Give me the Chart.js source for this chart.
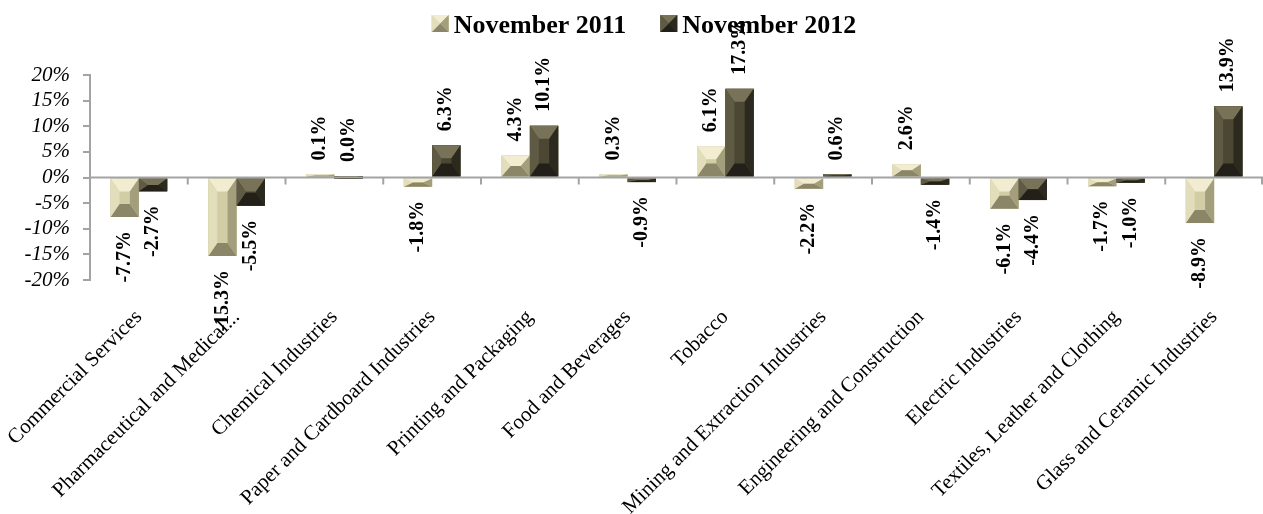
<!DOCTYPE html>
<html>
<head>
<meta charset="utf-8">
<script src="https://cdn.jsdelivr.net/npm/chart.js@4.4.0/dist/chart.umd.min.js"></script>
<style>
  html, body { margin: 0; padding: 0; background: #ffffff; }
  #wrap { width: 1263px; height: 514px; position: relative; }
</style>
</head>
<body>
<div id="wrap"><canvas id="chart"></canvas></div>
<script>
// Year-on-year change by industry (%)
const categories = [
  'Commercial Services',
  'Pharmaceutical and Medical...',
  'Chemical Industries',
  'Paper and Cardboard Industries',
  'Printing and Packaging',
  'Food and Beverages',
  'Tobacco',
  'Mining and Extraction Industries',
  'Engineering and Construction',
  'Electric Industries',
  'Textiles, Leather and Clothing',
  'Glass and Ceramic Industries'
];
const seriesNames = ['November 2011', 'November 2012'];
const nov2011 = [-7.7, -15.3, 0.1, -1.8, 4.3, 0.3, 6.1, -2.2, 2.6, -6.1, -1.7, -8.9];
const nov2012 = [-2.7, -5.5, 0.0, 6.3, 10.1, -0.9, 17.3, 0.6, -1.4, -4.4, -1.0, 13.9];
const yMin = -20;
const yMax = 20;
const yStep = 5;

const SERIF = '"Liberation Serif", "Times New Roman", serif';

// Facet colours for the bevelled ("pyramid") bars
const palettes = [
  { face: '#d2cda4', top: '#f2edd0', left: '#e2ddba', right: '#a39e7b', bottom: '#8b8667' },
  { face: '#4b4733', top: '#777258', left: '#5e5a43', right: '#2c2a1e', bottom: '#222018' }
];

function poly(ctx, pts, color) {
  ctx.beginPath();
  ctx.moveTo(pts[0][0], pts[0][1]);
  for (let i = 1; i < pts.length; i++) ctx.lineTo(pts[i][0], pts[i][1]);
  ctx.closePath();
  ctx.fillStyle = color;
  ctx.fill();
}

function drawBevel(ctx, l, t, r, b, pal, maxDx, maxDy) {
  const w = r - l, h = b - t;
  if (w <= 0 || h <= 0) return;
  const dx = Math.min(maxDx, w / 2);
  const dy = Math.min(maxDy, h / 2);
  ctx.fillStyle = pal.face;
  ctx.fillRect(l, t, w, h);
  poly(ctx, [[l, t], [r, t], [r - dx, t + dy], [l + dx, t + dy]], pal.top);
  poly(ctx, [[l, b], [r, b], [r - dx, b - dy], [l + dx, b - dy]], pal.bottom);
  poly(ctx, [[l, t], [l + dx, t + dy], [l + dx, b - dy], [l, b]], pal.left);
  poly(ctx, [[r, t], [r, b], [r - dx, b - dy], [r - dx, t + dy]], pal.right);
}

// Bevel overlay on every bar, drawn from the bar elements' own geometry
const bevelBars = {
  id: 'bevelBars',
  afterDatasetsDraw(chart) {
    const ctx = chart.ctx;
    ctx.save();
    chart.data.datasets.forEach((ds, di) => {
      const meta = chart.getDatasetMeta(di);
      if (meta.hidden) return;
      meta.data.forEach(el => {
        const p = el.getProps(['x', 'y', 'base', 'width'], true);
        const l = p.x - p.width / 2, r = p.x + p.width / 2;
        const t = Math.min(p.y, p.base), b = Math.max(p.y, p.base);
        drawBevel(ctx, l, t, r, b, palettes[di], 9, 13);
      });
    });

    // horizontal axis through zero, with tick marks at category boundaries
    const xs = chart.scales.x, ys = chart.scales.y;
    const y0 = ys.getPixelForValue(0);
    const area = chart.chartArea;
    ctx.strokeStyle = '#a3a3a3';
    ctx.lineWidth = 2;
    ctx.beginPath();
    ctx.moveTo(area.left, y0);
    ctx.lineTo(area.right, y0);
    const n = chart.data.labels.length;
    for (let i = 1; i <= n; i++) {
      const bx = i < n
        ? (xs.getPixelForValue(i - 1) + xs.getPixelForValue(i)) / 2
        : area.right - 1;
      ctx.moveTo(bx, y0);
      ctx.lineTo(bx, y0 + 7);
    }
    ctx.stroke();
    ctx.restore();
  }
};

// Rotated value labels just beyond the end of each bar
const valueLabels = {
  id: 'valueLabels',
  afterDatasetsDraw(chart) {
    const ctx = chart.ctx;
    ctx.save();
    ctx.font = 'bold 20px ' + SERIF;
    ctx.fillStyle = '#000000';
    ctx.textBaseline = 'middle';
    chart.data.datasets.forEach((ds, di) => {
      const meta = chart.getDatasetMeta(di);
      meta.data.forEach((el, i) => {
        const v = ds.data[i];
        const p = el.getProps(['x', 'y', 'base'], true);
        const txt = v.toFixed(1) + '%';
        const gap = 14;
        ctx.save();
        if (v >= 0) {
          const top = Math.min(p.y, p.base);
          ctx.translate(p.x, top - gap);
          ctx.rotate(-Math.PI / 2);
          ctx.textAlign = 'left';
        } else {
          const bot = Math.max(p.y, p.base);
          ctx.translate(p.x, bot + gap);
          ctx.rotate(-Math.PI / 2);
          ctx.textAlign = 'right';
        }
        ctx.fillText(txt, 0, 0);
        ctx.restore();
      });
    });
    ctx.restore();
  }
};

// Legend across the top with bevelled swatches
const topLegend = {
  id: 'topLegend',
  afterDraw(chart) {
    const ctx = chart.ctx;
    ctx.save();
    ctx.font = 'bold 26px ' + SERIF;
    ctx.fillStyle = '#000000';
    ctx.textBaseline = 'alphabetic';
    ctx.textAlign = 'left';
    const box = 17, gap = 5, spacing = 34;
    const names = chart.data.datasets.map(d => d.label);
    const widths = names.map(s => ctx.measureText(s).width);
    let total = 0;
    widths.forEach((w, i) => { total += box + gap + w + (i < widths.length - 1 ? spacing : 0); });
    let x = 644 - total / 2;
    const boxTop = 15, baseline = 33;
    names.forEach((s, i) => {
      drawBevel(ctx, x, boxTop, x + box, boxTop + box, palettes[i], box / 2, box / 2);
      ctx.fillStyle = '#000000';
      ctx.fillText(s, x + box + gap, baseline);
      x += box + gap + widths[i] + spacing;
    });
    ctx.restore();
  }
};

new Chart(document.getElementById('chart'), {
  type: 'bar',
  data: {
    labels: categories,
    datasets: [
      { label: seriesNames[0], data: nov2011, backgroundColor: palettes[0].face },
      { label: seriesNames[1], data: nov2012, backgroundColor: palettes[1].face }
    ]
  },
  options: {
    responsive: true,
    maintainAspectRatio: false,
    animation: false,
    devicePixelRatio: 1,
    layout: { padding: { top: 75, left: 0, right: 0, bottom: 0 } },
    datasets: {
      bar: { categoryPercentage: 0.58, barPercentage: 1.0, borderWidth: 0, minBarLength: 3 }
    },
    plugins: {
      legend: { display: false },
      tooltip: { enabled: false }
    },
    scales: {
      x: {
        grid: { display: false },
        border: { display: false },
        ticks: {
          autoSkip: false,
          minRotation: 45,
          maxRotation: 45,
          padding: 17,
          color: '#000000',
          font: { family: SERIF, size: 21 }
        },
        afterFit(scale) {
          scale.height = 234;
          scale.paddingLeft = 0;
          scale.paddingRight = 0;
        }
      },
      y: {
        min: yMin,
        max: yMax,
        grid: { drawOnChartArea: false, drawTicks: true, tickLength: 7, color: '#a3a3a3', lineWidth: 2 },
        border: { display: true, color: '#a3a3a3', width: 2 },
        ticks: {
          stepSize: yStep,
          autoSkip: false,
          padding: 13,
          color: '#000000',
          font: { family: SERIF, size: 21, style: 'italic' },
          callback: v => v + '%'
        },
        afterFit(scale) { scale.width = 90; }
      }
    }
  },
  plugins: [bevelBars, valueLabels, topLegend]
});
</script>
</body>
</html>
